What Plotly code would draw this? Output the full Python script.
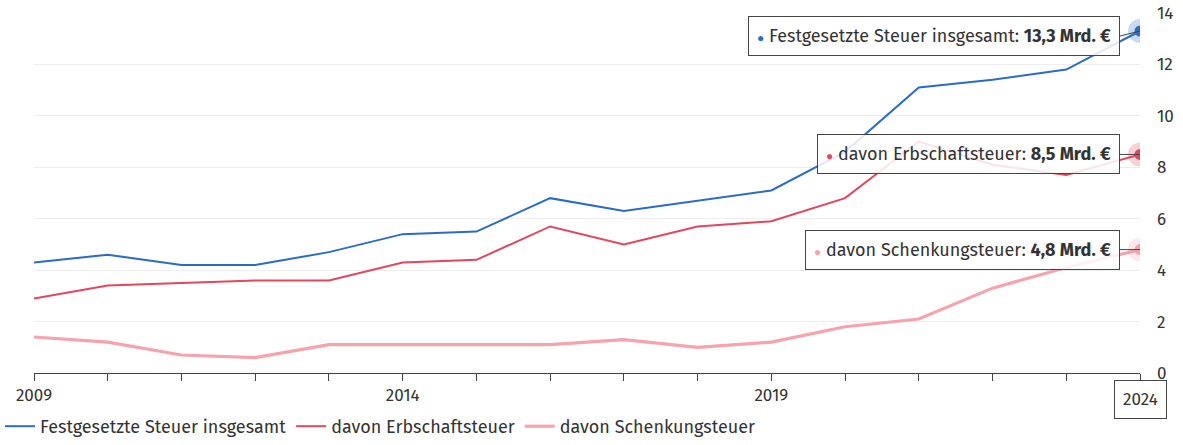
import plotly.graph_objects as go

years = list(range(2009, 2025))
gesamt = [4.3, 4.6, 4.2, 4.2, 4.7, 5.4, 5.5, 6.8, 6.3, 6.7, 7.1, 8.6, 11.1, 11.4, 11.8, 13.3]
erbschaft = [2.9, 3.4, 3.5, 3.6, 3.6, 4.3, 4.4, 5.7, 5.0, 5.7, 5.9, 6.8, 9.0, 8.1, 7.7, 8.5]
schenkung = [1.4, 1.2, 0.7, 0.6, 1.1, 1.1, 1.1, 1.1, 1.3, 1.0, 1.2, 1.8, 2.1, 3.3, 4.1, 4.8]

names = ["Festgesetzte Steuer insgesamt", "davon Erbschaftsteuer", "davon Schenkungsteuer"]
colors = ["#2b6cc4", "#e3465d", "#f7a3ad"]
widths = [2, 2, 3.2]
box_shift = [-5, 0, 0]
series = [gesamt, erbschaft, schenkung]
tick_labels = ["2009", "2014", "2019"]
font = "Fira Sans, Open Sans, sans-serif"
FS = 17
FS_TXT = 18

fig = go.Figure()
for name, vals, col, w in zip(names, series, colors, widths):
    fig.add_trace(go.Scatter(x=years, y=vals, mode="lines", name=name,
                             line=dict(color=col, width=w)))
# highlighted last points (halo + dot)
for name, vals, col in zip(names, series, colors):
    fig.add_trace(go.Scatter(x=[years[-1]], y=[vals[-1]], mode="markers", showlegend=False,
                             marker=dict(size=24, color=col, opacity=0.25), hoverinfo="skip"))
    fig.add_trace(go.Scatter(x=[years[-1]], y=[vals[-1]], mode="markers", showlegend=False,
                             marker=dict(size=11, color=col), hoverinfo="skip"))

# tooltip-like annotations
for name, vals, col, sh in zip(names, series, colors, box_shift):
    v = f"{vals[-1]:.1f}".replace(".", ",")
    fig.add_annotation(
        x=years[-1], y=vals[-1], xref="x", yref="y",
        text=f"<span style='color:{col};font-size:12px'>●</span> {name}: <b>{v} Mrd. €</b>",
        showarrow=True, arrowhead=0, arrowwidth=1, arrowcolor="#444",
        ax=-20, ay=-sh, xanchor="right", yanchor="middle",
        bgcolor="rgba(255,255,255,0.85)", bordercolor="#444", borderwidth=1, borderpad=8,
        font=dict(family=font, size=FS_TXT, color="#333"), align="left")

# x axis hover label for 2024
fig.add_annotation(x=years[-1], y=0, xref="x", yref="y", text="2024", showarrow=False,
                   yanchor="top", yshift=-7, bgcolor="white", bordercolor="#444",
                   borderwidth=1, borderpad=8, font=dict(family=font, size=FS, color="#333"))

tickvals = years
ticktext = [str(y) if str(y) in tick_labels else "" for y in years]

fig.update_layout(
    width=1183, height=445,
    margin=dict(l=34, r=43, t=13, b=72, autoexpand=False),
    plot_bgcolor="white", paper_bgcolor="white",
    font=dict(family=font, size=FS, color="#333"),
    showlegend=True,
    legend=dict(orientation="h", xref="container", yref="container",
                x=0.0, xanchor="left", y=0.0, yanchor="bottom",
                font=dict(family=font, size=FS_TXT, color="#333"), itemwidth=30,
                tracegroupgap=0),
    xaxis=dict(range=[2009, 2024], tickvals=tickvals, ticktext=ticktext, showgrid=False,
               ticks="outside", ticklen=7, tickcolor="#444", showline=True, linecolor="#444",
               linewidth=1, zeroline=False, tickfont=dict(size=FS, color="#333")),
    yaxis=dict(range=[0, 14], side="right", dtick=2, showgrid=True, gridcolor="#eeeeee",
               zeroline=False, showline=False, ticks="", tickfont=dict(size=FS, color="#333"),
               ticklabelstandoff=16),
)

fig.write_html("out.html")
